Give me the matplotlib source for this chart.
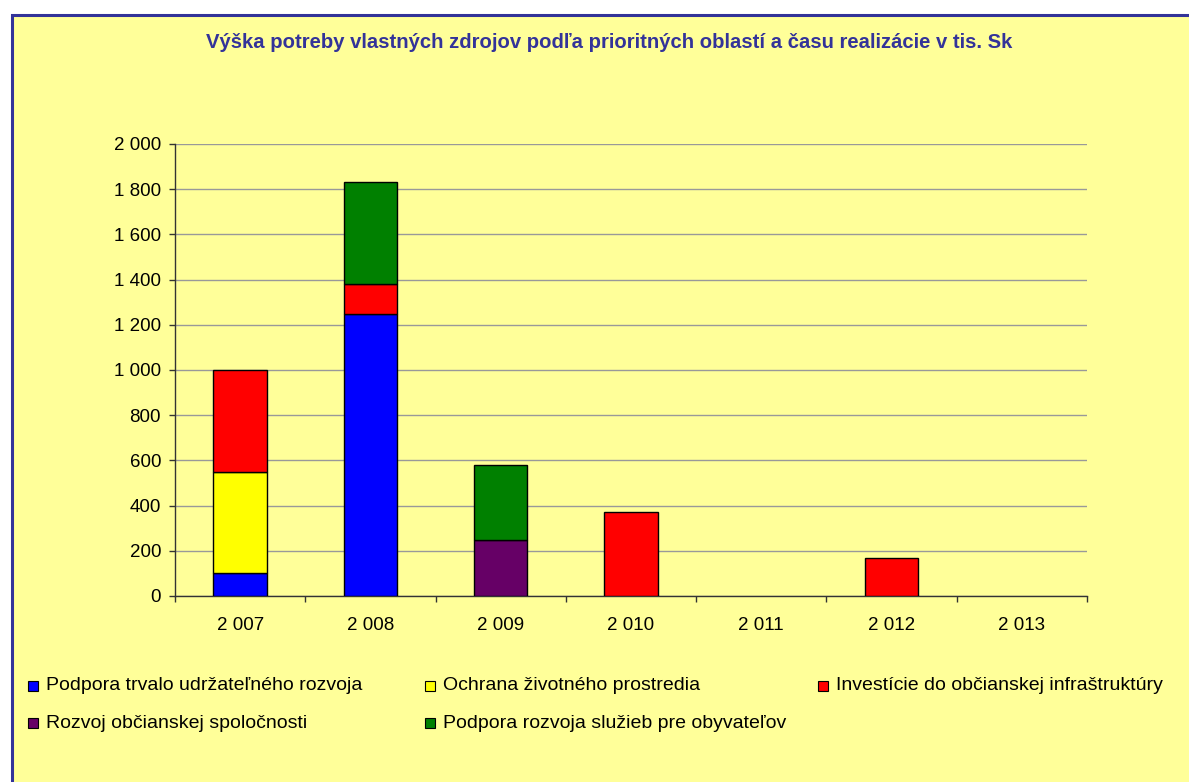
import matplotlib
matplotlib.use("Agg")
import matplotlib.pyplot as plt
from matplotlib.patches import Rectangle
import numpy as np

plt.rcParams['font.family'] = ['Liberation Sans', 'DejaVu Sans']

years = ["2 007", "2 008", "2 009", "2 010", "2 011", "2 012", "2 013"]
series_names = [
    "Podpora trvalo udržateľného rozvoja",
    "Ochrana životného prostredia",
    "Investície do občianskej infraštruktúry",
    "Rozvoj občianskej spoločnosti",
    "Podpora rozvoja služieb pre obyvateľov",
]
podpora_trvalo = [100, 1250, 0, 0, 0, 0, 0]
ochrana = [450, 0, 0, 0, 0, 0, 0]
investicie = [450, 130, 0, 370, 0, 170, 0]
rozvoj = [0, 0, 250, 0, 0, 0, 0]
podpora_sluzieb = [0, 450, 330, 0, 0, 0, 0]
series_values = [podpora_trvalo, ochrana, investicie, rozvoj, podpora_sluzieb]
colors = ["#0000FF", "#FFFF00", "#FF0000", "#660066", "#008000"]
yticks = [0, 200, 400, 600, 800, 1000, 1200, 1400, 1600, 1800, 2000]
ytick_labels = ["0", "200", "400", "600", "800", "1 000", "1 200", "1 400", "1 600", "1 800", "2 000"]
title = "Výška potreby vlastných zdrojov podľa prioritných oblastí a času realizácie v tis. Sk"

W, H = 1189, 782
fig = plt.figure(figsize=(W / 100, H / 100), dpi=100)
fig.patch.set_facecolor("white")

# frame
frame = Rectangle((11.5 / W, -0.05), 1.2, 1 - 14.5 / H + 0.05, transform=fig.transFigure,
                  facecolor="#FFFF99", edgecolor="#333399", linewidth=2.2, zorder=0)
fig.add_artist(frame)

ax = fig.add_axes([175 / W, 1 - 596 / H, (1087 - 175) / W, (596 - 144) / H])
ax.set_facecolor("none")
x = np.arange(len(years))
bottom = np.zeros(len(years))
for vals, col in zip(series_values, colors):
    v = np.array(vals, dtype=float)
    m = v > 0
    ax.bar(x[m], v[m], width=0.41, bottom=bottom[m], color=col, edgecolor="black",
           linewidth=1.0, zorder=3)
    bottom += v

ax.set_xlim(-0.5, len(years) - 0.5)
ax.set_ylim(0, 2000)
ax.set_yticks(yticks)
ax.set_yticklabels(ytick_labels, fontsize=13.5)
ax.set_xticks(x)
ax.set_xticklabels(years, fontsize=13.5)
ax.set_xticks(np.arange(-0.5, len(years)), minor=True)
ax.tick_params(axis='x', which='major', length=0, pad=15)
ax.tick_params(axis='x', which='minor', length=4.5, width=1, color="#333333", direction='out')
ax.tick_params(axis='y', length=4.5, width=1, color="#333333", direction='out', pad=5.5)
ax.grid(axis='y', color="#999999", linewidth=1.0, zorder=0)
for s in ["top", "right"]:
    ax.spines[s].set_visible(False)
for s in ["left", "bottom"]:
    ax.spines[s].set_color("#333333")
    ax.spines[s].set_linewidth(1.0)

fig.text(609 / W, 1 - 43 / H, title, ha="center", va="center", fontsize=14.6,
         fontweight="bold", color="#333399")

# legend (row-major, three columns)
leg_pos = [(33, 686), (430, 686), (823, 686), (33, 723), (430, 723)]
for (px, py), name, col in zip(leg_pos, series_names, colors):
    fig.add_artist(Rectangle(((px - 5) / W, 1 - (py + 5) / H), 10 / W, 10 / H,
                             transform=fig.transFigure,
                             facecolor=col, edgecolor="black", linewidth=0.8))
    fig.text((px + 13) / W, 1 - py / H, name, ha="left", va="center", fontsize=14)

fig.savefig("out.png", dpi=100)
